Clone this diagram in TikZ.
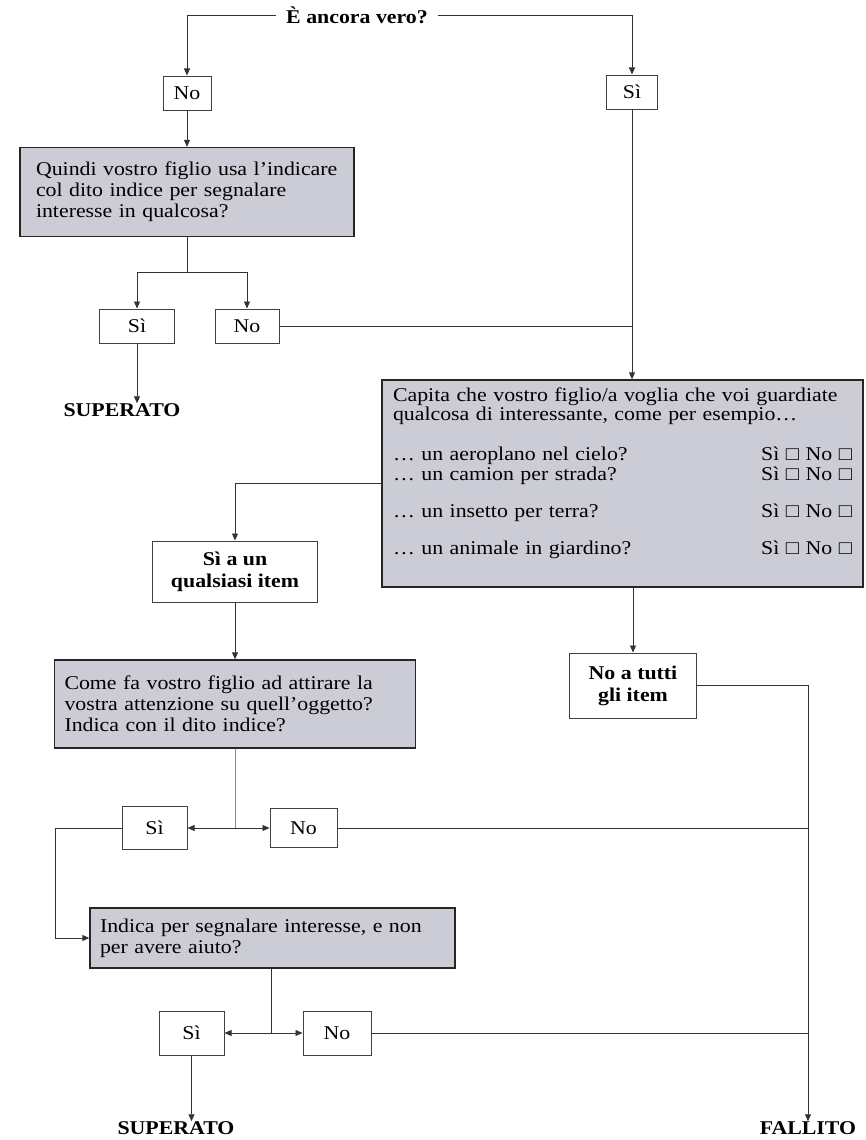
\documentclass[tikz,border=0pt]{standalone}
\usepackage{fontspec}
\setmainfont{Liberation Serif}[FakeStretch=1.12]
\usepackage{tikz}
\usetikzlibrary{arrows.meta}
\usetikzlibrary{positioning}
\definecolor{askgray}{RGB}{204,204,214}
\newcommand{\sino}{Sì □ No □}

\begin{document}
\begin{tikzpicture}[x=1pt,y=-1pt,
    font=\fontsize{19.5}{21}\selectfont,
    every node/.style={inner sep=0pt},
    answer/.style={draw=black!75,line width=1pt,fill=white,minimum height=34pt},
    question/.style={draw=black!85,line width=1.3pt,fill=askgray,align=left,inner xsep=10pt},
    outcome/.style={font=\fontsize{19.5}{22}\selectfont\bfseries},
    flow/.style={draw=black!80,line width=0.9pt},
    go/.style={flow,-{Triangle[length=7pt,width=6pt]}},
  ]
  \useasboundingbox (0,0) rectangle (865,1140);

  % first question
  \node[outcome,inner xsep=10pt] (start) at (357,15) {È ancora vero?};
  \node[answer,minimum width=48pt] (no-a) at (187,93) {No};
  \node[answer,minimum width=51pt] (si-a) at (632,92) {Sì};
  \node[question,inner xsep=16pt,text width=302pt,minimum height=89pt] (q-point) at (187,192)
    {Quindi vostro figlio usa l'indicare\\col dito indice per segnalare\\interesse in qualcosa?};
  \node[answer,minimum width=75pt] (si-b) at (137,326) {Sì};
  \node[answer,minimum width=64pt] (no-b) at (247,326) {No};
  \node[outcome] (sup-a) at (122,410) {SUPERATO};

  % big question
  \node[question,font=\fontsize{19.5}{19}\selectfont,inner xsep=11pt,text width=459pt,minimum height=207pt] (capita) at (622.5,483.5)
    {Capita che vostro figlio/a voglia che voi guardiate\\
     qualcosa di interessante, come per esempio…\\[21pt]
     … un aeroplano nel cielo?\hfill\sino\\[1pt]
     … un camion per strada?\hfill\sino\\[18pt]
     … un insetto per terra?\hfill\sino\\[18pt]
     … un animale in giardino?\hfill\sino\\[5pt]\mbox{}};
  \node[answer,outcome,align=center,minimum width=165pt,minimum height=61pt] (si-any) at (235,571.5)
    {Sì a un\\qualsiasi item};
  \node[answer,outcome,align=center,minimum width=127pt,minimum height=65pt] (no-all) at (633,685.5)
    {No a tutti\\gli item};

  % pointing question
  \node[question,text width=341pt,minimum height=88pt] (come) at (235,704)
    {Come fa vostro figlio ad attirare la\\vostra attenzione su quell'oggetto?\\Indica con il dito indice?};
  \node[answer,minimum width=65pt,minimum height=43pt] (si-c) at (154.5,828) {Sì};
  \node[answer,minimum width=67pt,minimum height=39pt] (no-c) at (303.5,828) {No};
  \node[question,text width=345pt,minimum height=60pt] (indica) at (272.5,938)
    {Indica per segnalare interesse, e non\\per avere aiuto?};
  \node[answer,minimum width=65pt,minimum height=44pt] (si-d) at (191.5,1033) {Sì};
  \node[answer,minimum width=68pt,minimum height=44pt] (no-d) at (337,1033) {No};
  \node[outcome] (sup-b) at (176,1128) {SUPERATO};
  \node[outcome] (fail) at (808,1128) {FALLITO};

  \coordinate (q-split) at (187,272);
  \coordinate (come-split) at (235,828);
  \coordinate (loop-corner) at (55,938);
  \coordinate (ind-split) at (271,1033);

  % connectors
  \draw[go] (start.west) -| (no-a.north);
  \draw[go] (start.east) -| (si-a.north);
  \draw[go] (no-a.south) -- (q-point.north);
  \draw[flow] (q-point.south) -- (q-split);
  \draw[go] (q-split) -| (si-b.north);
  \draw[go] (q-split) -| (no-b.north);
  \draw[go] (si-b.south) -- (si-b.south |- sup-a.north);
  \draw[flow] (no-b.east) -- (no-b.east -| si-a.south);
  \draw[go] (si-a.south) -- (si-a.south |- capita.north);
  \draw[go] (capita.west) -| (si-any.north);
  \draw[go] (capita.south -| no-all.north) -- (no-all.north);
  \draw[go] (si-any.south) -- (come.north);
  \draw[go] (no-all.east) -| (fail.north);
  \draw[flow,draw=black!45] (come.south) -- (come-split);
  \draw[go] (come-split) -- (si-c.east);
  \draw[go] (come-split) -- (no-c.west);
  \draw[flow] (no-c.east) -- (no-c.east -| fail.north);
  \draw[go] (si-c.west) -| (loop-corner) -- (indica.west);
  \draw[flow] (indica.south -| ind-split) -- (ind-split);
  \draw[go] (ind-split) -- (si-d.east);
  \draw[go] (ind-split) -- (no-d.west);
  \draw[flow] (no-d.east) -- (no-d.east -| fail.north);
  \draw[go] (si-d.south) -- (si-d.south |- sup-b.north);
\end{tikzpicture}
\end{document}
